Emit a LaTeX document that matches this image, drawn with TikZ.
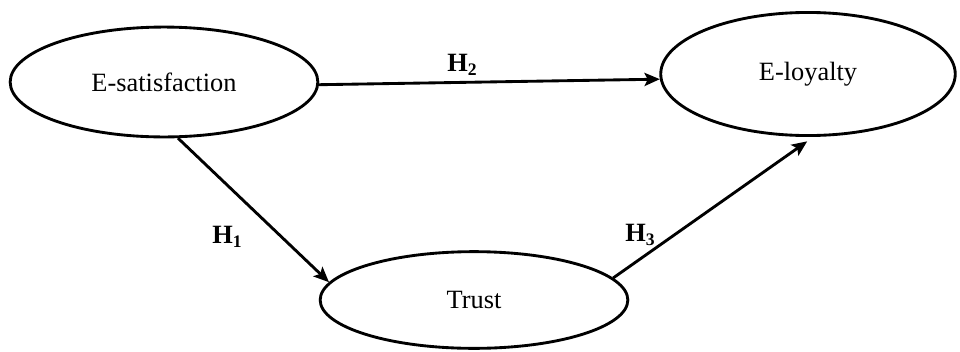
\documentclass[tikz,border=0pt]{standalone}
\usepackage{fontspec}
\setmainfont{Liberation Serif}
\usepackage{tikz}
\usetikzlibrary{
	arrows.meta,
	shapes.geometric,
	positioning
}
\tikzstyle{every picture}+=[>={Stealth[length=7pt, width=6pt, inset=1.5pt]}]

\newcommand{\Hyp}[1]{\textbf{H\raisebox{-0.3ex}{\footnotesize #1}}}

\begin{document}
\begin{tikzpicture}
	[x=0.455pt, y=-0.455pt, font=\fontsize{12}{14}\selectfont]

	\useasboundingbox (0,0) rectangle (960,351);

	% constructs
	\begin{scope}[every node/.style={ellipse, draw, line width=1.3pt, inner sep=0pt}]
		\node[minimum width=140pt, minimum height=50pt] (sat) at (164,82) {E-satisfaction};
		\node[minimum width=134pt, minimum height=56pt] (loy) at (808,74) {E-loyalty};
		\node[minimum width=140pt, minimum height=44pt] (trust) at (474,300) {Trust};
	\end{scope}

	% paths
	\begin{scope}[->, line width=1.3pt]
		\draw (sat.-1) -- (loy.182);   % H2
		\draw (sat.-76) -- (trust.173); % H1
		\draw[shorten >=3.5pt] (trust.9) -- (loy.-85); % H3
	\end{scope}

	% labels
	\begin{scope}
		\node (h1) at (227,237) {\Hyp{1}};
		\node (h2) at (462,65)  {\Hyp{2}};
		\node (h3) at (640,235) {\Hyp{3}};
	\end{scope}

\end{tikzpicture}
\end{document}
